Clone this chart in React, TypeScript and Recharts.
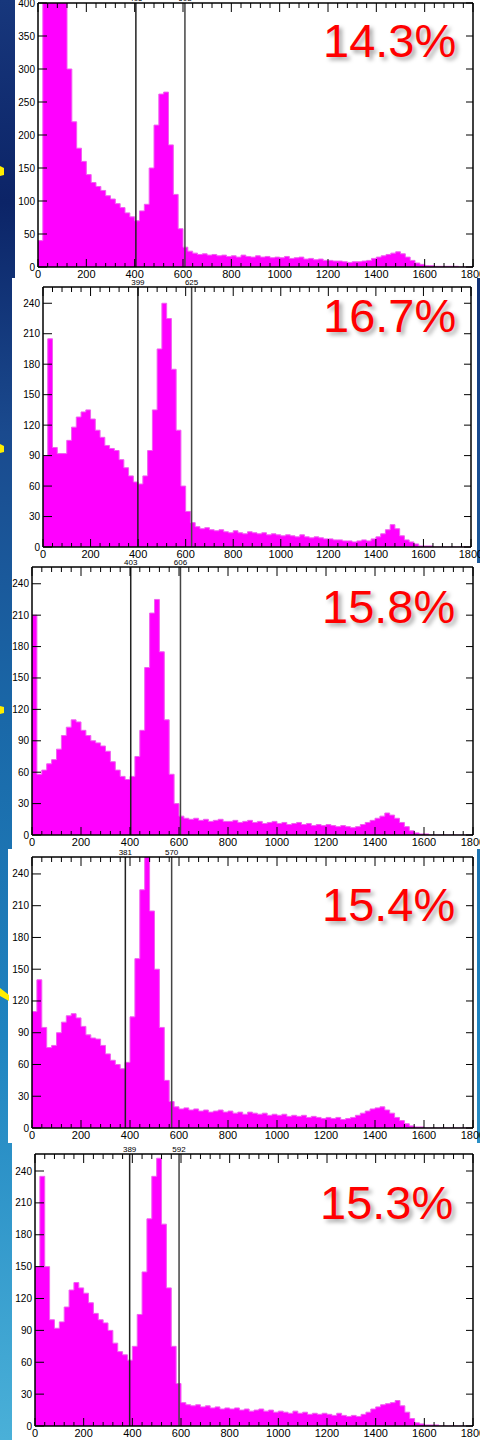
import React from 'react';
import { ComposedChart, Area, XAxis, YAxis, ReferenceLine } from 'recharts';

const BIN_WIDTH = 20;
const X_MAX = 1800;
const X_TICKS = [0, 200, 400, 600, 800, 1000, 1200, 1400, 1600, 1800];
const X_MINOR_STEP = 40;
const Y_TICKS_400 = [0, 50, 100, 150, 200, 250, 300, 350, 400];
const Y_TICKS_240 = [0, 30, 60, 90, 120, 150, 180, 210, 240];

// counts per 20-channel bin, 0..1780
const counts1 = [
  40, 430, 440, 450, 430, 410, 300, 220, 180, 160,
  140, 128, 122, 116, 108, 103, 96, 90, 82, 76,
  70, 85, 95, 150, 215, 262, 265, 185, 110, 58,
  30, 24, 21, 19, 20, 18, 19, 17, 18, 16,
  17, 15, 18, 16, 15, 17, 15, 16, 14, 15,
  14, 16, 13, 14, 15, 12, 13, 11, 12, 10,
  10, 9, 9, 8, 7, 8, 8, 9, 10, 13,
  15, 17, 19, 21, 23, 20, 15, 10, 6, 4,
  2, 2, 1, 1, 1, 1, 1, 0, 0, 0,
];
const counts2 = [
  90, 205, 98, 92, 92, 105, 118, 128, 133, 135,
  126, 115, 108, 100, 97, 95, 86, 78, 70, 64,
  62, 70, 95, 135, 195, 240, 225, 175, 115, 60,
  35, 24, 20, 18, 19, 17, 16, 17, 15, 14,
  16, 14, 13, 15, 14, 13, 14, 12, 13, 12,
  11, 12, 11, 10, 12, 10, 9, 10, 9, 8,
  8, 7, 7, 6, 6, 5, 6, 7, 6, 8,
  10, 13, 17, 22, 18, 11, 7, 5, 3, 1,
  1, 1, 0, 0, 0, 0, 0, 0, 0, 0,
];
const counts3 = [
  210, 58, 62, 68, 72, 82, 95, 103, 110, 108,
  100, 95, 90, 88, 85, 80, 70, 62, 56, 53,
  56, 75, 100, 160, 212, 225, 175, 110, 58, 30,
  18, 16, 15, 16, 14, 15, 13, 14, 15, 13,
  13, 14, 12, 13, 14, 12, 13, 11, 12, 13,
  11, 12, 10, 11, 12, 10, 11, 9, 10, 9,
  10, 9, 8, 9, 8, 7, 8, 10, 12, 14,
  16, 18, 21, 19, 16, 12, 8, 4, 2, 1,
  1, 0, 0, 0, 0, 0, 0, 0, 0, 0,
];
const counts4 = [
  110, 140, 95, 76, 78, 90, 100, 106, 108, 104,
  96, 88, 85, 84, 78, 70, 64, 60, 56, 62,
  105, 160, 225, 258, 205, 150, 95, 45, 25, 20,
  18, 19, 17, 18, 16, 17, 15, 16, 17, 15,
  16, 14, 15, 13, 15, 14, 13, 14, 12, 13,
  12, 13, 11, 12, 11, 12, 10, 11, 10, 9,
  10, 9, 10, 8, 9, 10, 12, 14, 16, 18,
  19, 20, 17, 14, 10, 7, 4, 2, 1, 1,
  0, 0, 0, 0, 0, 0, 0, 0, 0, 0,
];
const counts5 = [
  150, 235, 150, 100, 92, 98, 112, 128, 135, 130,
  125, 116, 106, 100, 97, 90, 78, 70, 67, 62,
  75, 105, 145, 195, 235, 252, 190, 130, 75, 40,
  22, 20, 19, 20, 18, 19, 17, 18, 16, 17,
  16, 17, 15, 16, 14, 15, 16, 14, 15, 13,
  14, 13, 12, 14, 12, 13, 11, 12, 11, 12,
  11, 10, 12, 10, 9, 10, 9, 11, 13, 16,
  18, 20, 21, 22, 24, 19, 13, 7, 3, 2,
  1, 1, 1, 0, 0, 0, 0, 0, 0, 0,
];

const gates1 = [405, 608];
const gates2 = [399, 625];
const gates3 = [403, 606];
const gates4 = [381, 570];
const gates5 = [389, 592];

const percents = ['14.3%', '16.7%', '15.8%', '15.4%', '15.3%'];

const MINOR_TICKS = Array.from({ length: X_MAX / X_MINOR_STEP + 1 }, (_, i) => i * X_MINOR_STEP);
const FONT = '"Liberation Sans", Arial, sans-serif';

const toRows = (counts: number[]) =>
  counts
    .map((v, i) => ({ x: i * BIN_WIDTH, v }))
    .concat({ x: counts.length * BIN_WIDTH, v: counts[counts.length - 1] });

const BottomTick = (p: any) => {
  const major = p.payload.value % 200 === 0;
  return (
    <g>
      <line x1={p.x} x2={p.x} y1={p.y} y2={p.y - (major ? 8 : 4)} stroke="#000" />
      {major && (
        <text x={p.x} y={p.y + 11} textAnchor="middle" fontSize={11} fontFamily={FONT} fill="#000">
          {p.payload.value}
        </text>
      )}
    </g>
  );
};

const TopTick = (p: any) => {
  const major = p.payload.value % 200 === 0;
  return <line x1={p.x} x2={p.x} y1={p.y} y2={p.y + (major ? 9 : 5)} stroke="#000" />;
};

const LeftTick = (p: any) => (
  <g>
    <line x1={p.x} x2={p.x + 9} y1={p.y} y2={p.y} stroke="#000" />
    <text x={p.x - 3} y={p.y + 3.5} textAnchor="end" fontSize={10} fontFamily={FONT} fill="#000">
      {p.payload.value}
    </text>
  </g>
);

const RightTick = (p: any) => <line x1={p.x} x2={p.x - 7} y1={p.y} y2={p.y} stroke="#000" />;

type PanelProps = {
  counts: number[];
  yMax: number;
  yTicks: number[];
  gates: number[];
  pct: string;
  box: { x: number; y: number; w: number; h: number };
  plot: { L: number; R: number; T: number; B: number };
  pctPos: { x: number; y: number };
};

const axisLine = { stroke: '#000', strokeWidth: 1.5 };

function Panel({ counts, yMax, yTicks, gates, pct, box, plot, pctPos }: PanelProps) {
  const left = plot.L - 30;
  const top = plot.T - 12;
  const width = 490 - left;
  const height = plot.B + 16 - top;
  const rows = toRows(counts);
  return (
    <>
      <div style={{ position: 'absolute', left: box.x, top: box.y, width: box.w, height: box.h, background: '#fff' }} />
      <div style={{ position: 'absolute', left, top }}>
        <ComposedChart width={width} height={height} data={rows} margin={{ top: 0, right: 0, bottom: 0, left: 0 }}>
          <XAxis
            xAxisId="b"
            type="number"
            dataKey="x"
            domain={[0, X_MAX]}
            ticks={MINOR_TICKS}
            interval={0}
            height={16}
            tickSize={0}
            tickMargin={0}
            tickLine={false}
            axisLine={axisLine}
            tick={(p: any) => <BottomTick {...p} />}
            allowDataOverflow
          />
          <XAxis
            xAxisId="t"
            orientation="top"
            type="number"
            dataKey="x"
            domain={[0, X_MAX]}
            ticks={MINOR_TICKS}
            interval={0}
            height={12}
            tickSize={0}
            tickMargin={0}
            tickLine={false}
            axisLine={axisLine}
            tick={(p: any) => <TopTick {...p} />}
            allowDataOverflow
          />
          <YAxis
            yAxisId="l"
            type="number"
            domain={[0, yMax]}
            ticks={yTicks}
            interval={0}
            width={30}
            tickSize={0}
            tickMargin={0}
            tickLine={false}
            axisLine={axisLine}
            tick={(p: any) => <LeftTick {...p} />}
            allowDataOverflow
          />
          <YAxis
            yAxisId="r"
            orientation="right"
            type="number"
            domain={[0, yMax]}
            ticks={yTicks}
            interval={0}
            width={490 - plot.R}
            tickSize={0}
            tickMargin={0}
            tickLine={false}
            axisLine={axisLine}
            tick={(p: any) => <RightTick {...p} />}
            allowDataOverflow
          />
          <Area
            xAxisId="b"
            yAxisId="l"
            type="stepAfter"
            dataKey="v"
            fill="#ff00ff"
            fillOpacity={1}
            stroke="#f060f0"
            strokeWidth={1}
            dot={false}
            activeDot={false}
            isAnimationActive={false}
          />
          {gates.map((g, i) => (
            <ReferenceLine
              key={g}
              xAxisId="b"
              yAxisId="l"
              x={g}
              stroke={i === 0 ? '#222' : '#444'}
              strokeWidth={1.5}
              label={{ value: String(g), position: 'top', offset: 2, fontSize: 8, fill: '#000', fontFamily: FONT }}
            />
          ))}
        </ComposedChart>
      </div>
      <div
        style={{
          position: 'absolute',
          left: pctPos.x,
          top: pctPos.y,
          fontFamily: FONT,
          fontSize: 47,
          lineHeight: 1,
          color: '#ff0000',
          textShadow: '3px 3px 4px rgba(0,0,0,0.35)',
          whiteSpace: 'nowrap',
        }}
      >
        {pct}
      </div>
    </>
  );
}

export default function App() {
  return (
    <div
      style={{
        position: 'absolute',
        left: 0,
        top: 0,
        width: 480,
        height: 1440,
        overflow: 'hidden',
        background: 'linear-gradient(180deg, #17377c 0%, #0c2467 14%, #1a4a8e 30%, #1a68a8 50%, #1f84c0 72%, #4ab0d8 100%)',
      }}
    >
      <Panel counts={counts1} yMax={400} yTicks={Y_TICKS_400} gates={gates1} pct={percents[0]}
        box={{ x: 15, y: 0, w: 465, h: 278 }} plot={{ L: 38, R: 473, T: 3, B: 267 }} pctPos={{ x: 323, y: 17 }} />
      <Panel counts={counts2} yMax={256} yTicks={Y_TICKS_240} gates={gates2} pct={percents[1]}
        box={{ x: 12, y: 278, w: 465, h: 286 }} plot={{ L: 43, R: 471, T: 287, B: 547 }} pctPos={{ x: 323, y: 292 }} />
      <Panel counts={counts3} yMax={256} yTicks={Y_TICKS_240} gates={gates3} pct={percents[2]}
        box={{ x: 12, y: 563, w: 468, h: 286 }} plot={{ L: 32, R: 473, T: 567, B: 835 }} pctPos={{ x: 322, y: 583 }} />
      <Panel counts={counts4} yMax={256} yTicks={Y_TICKS_240} gates={gates4} pct={percents[3]}
        box={{ x: 8, y: 849, w: 469, h: 294 }} plot={{ L: 32, R: 473, T: 857, B: 1128 }} pctPos={{ x: 322, y: 881 }} />
      <Panel counts={counts5} yMax={256} yTicks={Y_TICKS_240} gates={gates5} pct={percents[4]}
        box={{ x: 12, y: 1143, w: 468, h: 297 }} plot={{ L: 35, R: 473, T: 1154, B: 1426 }} pctPos={{ x: 320, y: 1179 }} />
      <svg width={480} height={1440} style={{ position: 'absolute', left: 0, top: 0, pointerEvents: 'none' }}>
        <polygon points="0,166 4,168 4,175 0,176" fill="#ffee00" />
        <polygon points="0,444 4,446 4,452 0,453" fill="#ffee00" />
        <polygon points="0,706 4,707 4,713 0,714" fill="#ffee00" />
        <polygon points="0,988 9,995 9,1001 0,996" fill="#ffee00" />
      </svg>
    </div>
  );
}
